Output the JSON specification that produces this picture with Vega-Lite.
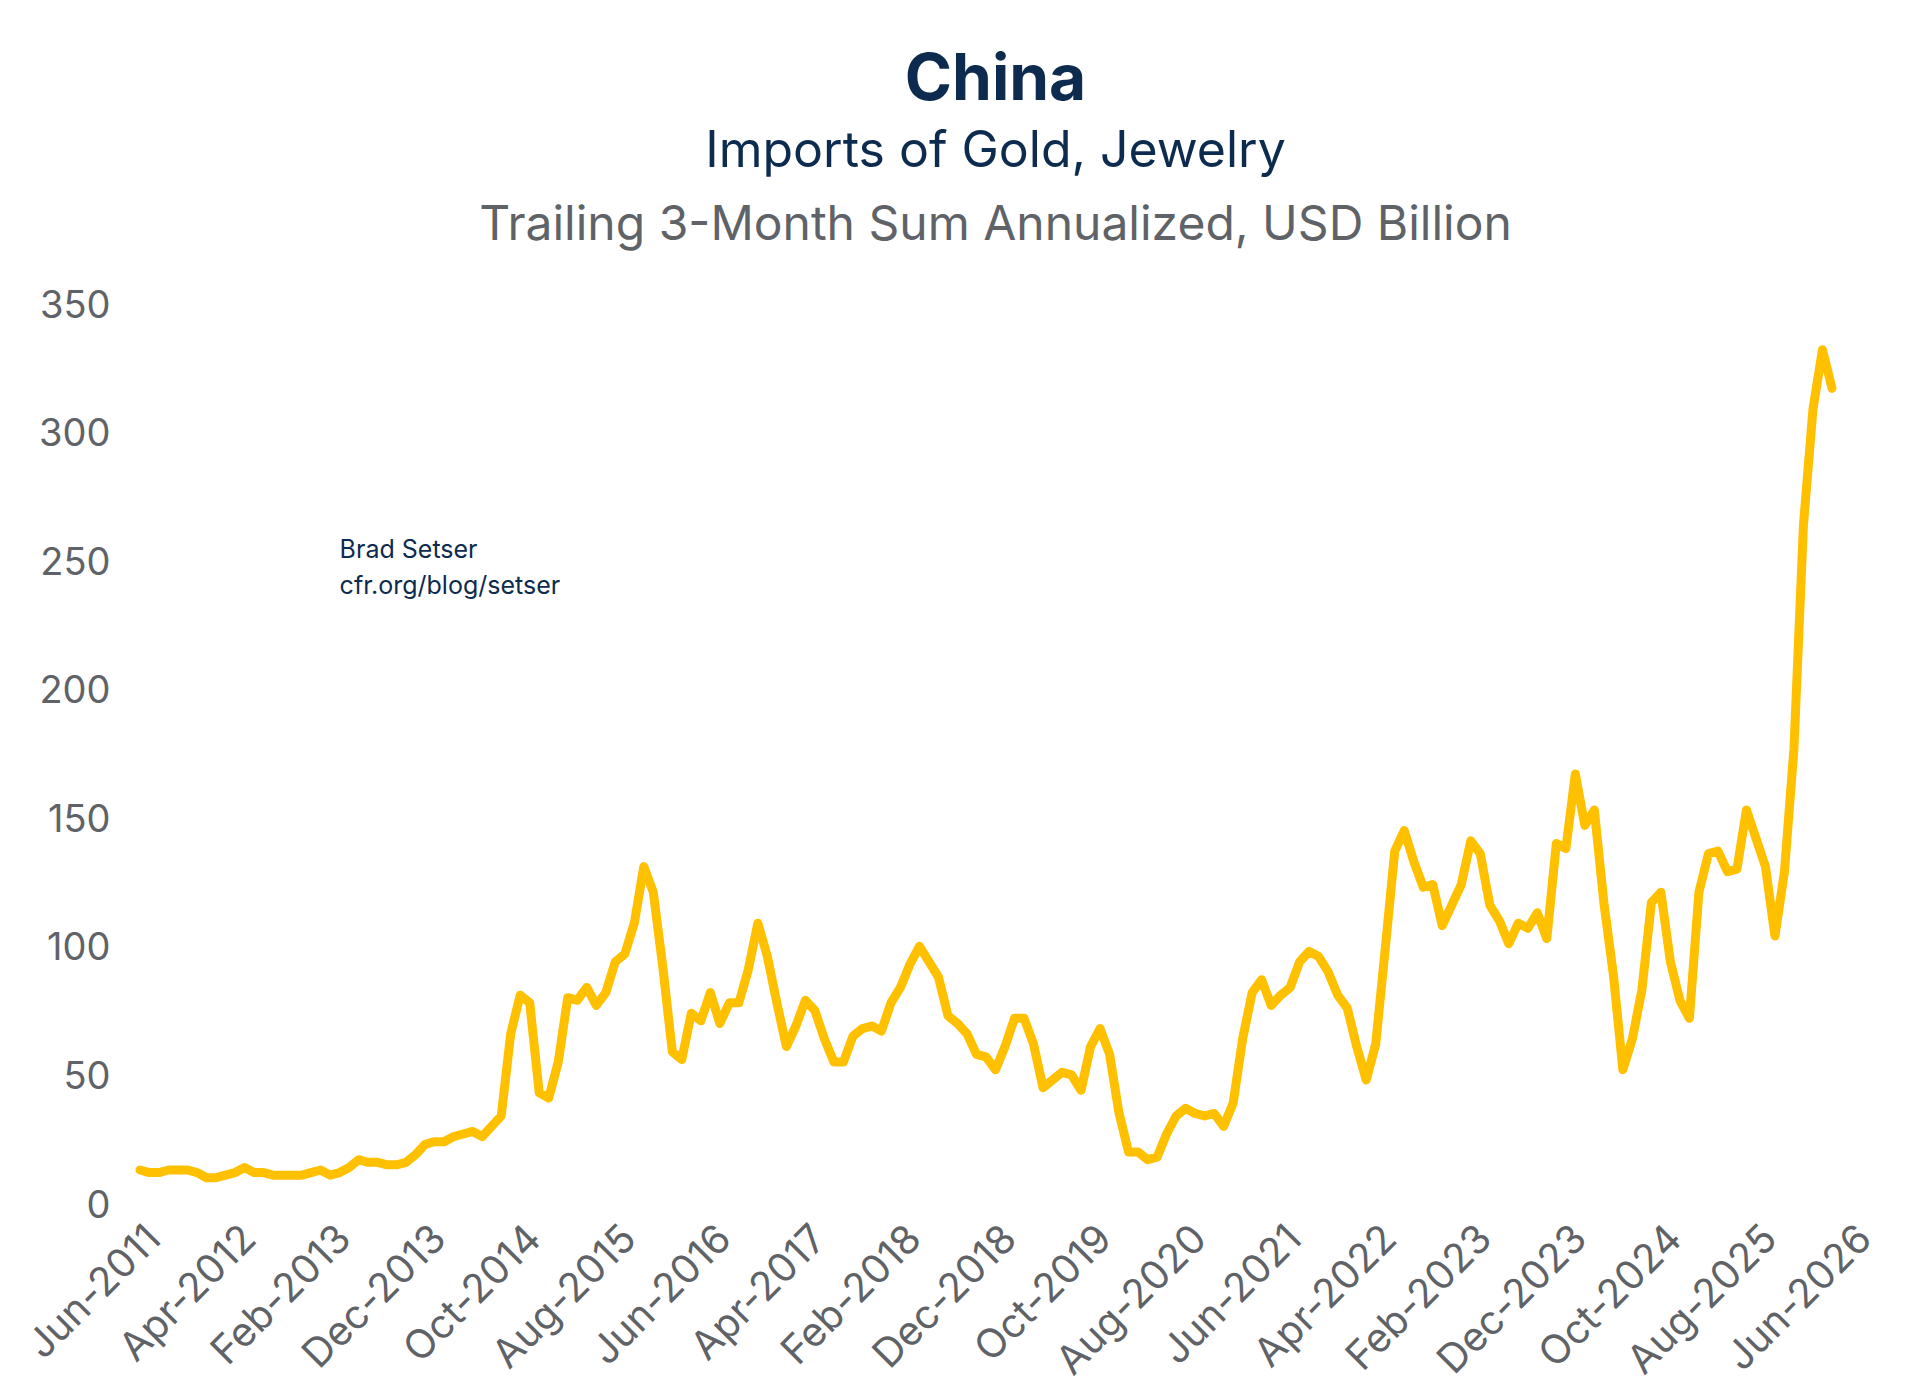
{
  "$schema": "https://vega.github.io/schema/vega-lite/v6.json",
  "width": 1920,
  "height": 1393,
  "autosize": {"type": "fit", "contains": "padding"},
  "padding": {"left": 20, "right": 40, "top": 5, "bottom": 10},
  "background": "white",
  "title": {
    "text": "China",
    "subtitle": "Imports of Gold, Jewelry",
    "font": "Inter",
    "fontSize": 64,
    "fontWeight": "bold",
    "color": "#0d2b4e",
    "subtitleFont": "Inter",
    "subtitleFontSize": 50,
    "subtitleColor": "#0d2b4e",
    "subtitlePadding": 14,
    "anchor": "middle",
    "offset": 25
  },
  "datasets": {
    "series": [
      {"i":0,"v":14},{"i":1,"v":13},{"i":2,"v":13},{"i":3,"v":14},{"i":4,"v":14},{"i":5,"v":14},{"i":6,"v":13},{"i":7,"v":11},{"i":8,"v":11},{"i":9,"v":12},
      {"i":10,"v":13},{"i":11,"v":15},{"i":12,"v":13},{"i":13,"v":13},{"i":14,"v":12},{"i":15,"v":12},{"i":16,"v":12},{"i":17,"v":12},{"i":18,"v":13},{"i":19,"v":14},
      {"i":20,"v":12},{"i":21,"v":13},{"i":22,"v":15},{"i":23,"v":18},{"i":24,"v":17},{"i":25,"v":17},{"i":26,"v":16},{"i":27,"v":16},{"i":28,"v":17},{"i":29,"v":20},
      {"i":30,"v":24},{"i":31,"v":25},{"i":32,"v":25},{"i":33,"v":27},{"i":34,"v":28},{"i":35,"v":29},{"i":36,"v":27},{"i":37,"v":31},{"i":38,"v":35},{"i":39,"v":67},
      {"i":40,"v":82},{"i":41,"v":79},{"i":42,"v":44},{"i":43,"v":42},{"i":44,"v":56},{"i":45,"v":81},{"i":46,"v":80},{"i":47,"v":85},{"i":48,"v":78},{"i":49,"v":83},
      {"i":50,"v":95},{"i":51,"v":98},{"i":52,"v":110},{"i":53,"v":132},{"i":54,"v":122},{"i":55,"v":93},{"i":56,"v":60},{"i":57,"v":57},{"i":58,"v":75},{"i":59,"v":72},
      {"i":60,"v":83},{"i":61,"v":71},{"i":62,"v":79},{"i":63,"v":79},{"i":64,"v":92},{"i":65,"v":110},{"i":66,"v":97},{"i":67,"v":79},{"i":68,"v":62},{"i":69,"v":70},
      {"i":70,"v":80},{"i":71,"v":76},{"i":72,"v":65},{"i":73,"v":56},{"i":74,"v":56},{"i":75,"v":66},{"i":76,"v":69},{"i":77,"v":70},{"i":78,"v":68},{"i":79,"v":79},
      {"i":80,"v":85},{"i":81,"v":94},{"i":82,"v":101},{"i":83,"v":95},{"i":84,"v":89},{"i":85,"v":74},{"i":86,"v":71},{"i":87,"v":67},{"i":88,"v":59},{"i":89,"v":58},
      {"i":90,"v":53},{"i":91,"v":62},{"i":92,"v":73},{"i":93,"v":73},{"i":94,"v":63},{"i":95,"v":46},{"i":96,"v":49},{"i":97,"v":52},{"i":98,"v":51},{"i":99,"v":45},
      {"i":100,"v":62},{"i":101,"v":69},{"i":102,"v":59},{"i":103,"v":36},{"i":104,"v":21},{"i":105,"v":21},{"i":106,"v":18},{"i":107,"v":19},{"i":108,"v":28},{"i":109,"v":35},
      {"i":110,"v":38},{"i":111,"v":36},{"i":112,"v":35},{"i":113,"v":36},{"i":114,"v":31},{"i":115,"v":40},{"i":116,"v":65},{"i":117,"v":83},{"i":118,"v":88},{"i":119,"v":78},
      {"i":120,"v":82},{"i":121,"v":85},{"i":122,"v":95},{"i":123,"v":99},{"i":124,"v":97},{"i":125,"v":91},{"i":126,"v":82},{"i":127,"v":77},{"i":128,"v":62},{"i":129,"v":49},
      {"i":130,"v":63},{"i":131,"v":100},{"i":132,"v":138},{"i":133,"v":146},{"i":134,"v":134},{"i":135,"v":124},{"i":136,"v":125},{"i":137,"v":109},{"i":138,"v":117},{"i":139,"v":125},
      {"i":140,"v":142},{"i":141,"v":137},{"i":142,"v":117},{"i":143,"v":111},{"i":144,"v":102},{"i":145,"v":110},{"i":146,"v":108},{"i":147,"v":114},{"i":148,"v":104},{"i":149,"v":141},
      {"i":150,"v":139},{"i":151,"v":168},{"i":152,"v":148},{"i":153,"v":154},{"i":154,"v":118},{"i":155,"v":90},{"i":156,"v":53},{"i":157,"v":65},{"i":158,"v":84},{"i":159,"v":118},
      {"i":160,"v":122},{"i":161,"v":95},{"i":162,"v":80},{"i":163,"v":73},{"i":164,"v":122},{"i":165,"v":137},{"i":166,"v":138},{"i":167,"v":130},{"i":168,"v":131},{"i":169,"v":154},
      {"i":170,"v":143},{"i":171,"v":132},{"i":172,"v":105},{"i":173,"v":130},{"i":174,"v":178},{"i":175,"v":265},{"i":176,"v":310},{"i":177,"v":333},{"i":178,"v":318}
    ],
    "note": [
      {"i": 21, "v": 255, "t": "Brad Setser"},
      {"i": 21, "v": 241, "t": "cfr.org/blog/setser"}
    ],
    "head": [
      {"i": 90, "v": 381, "t": "Trailing 3-Month Sum Annualized, USD Billion"}
    ]
  },
  "layer": [
    {
      "data": {"name": "series"},
      "mark": {"type": "line", "color": "#FFC000", "strokeWidth": 9, "strokeJoin": "round", "strokeCap": "round"},
      "encoding": {
        "x": {
          "field": "i", "type": "quantitative", "title": null,
          "scale": {"domain": [0, 180], "nice": false, "zero": false},
          "axis": {
            "values": [0,10,20,30,40,50,60,70,80,90,100,110,120,130,140,150,160,170,180],
            "labelExpr": "timeFormat(datetime(2011, 5 + datum.value, 1), '%b-%Y')",
            "labelAngle": -45, "labelAlign": "right", "labelBaseline": "top",
            "labelFont": "Inter", "labelFontSize": 40, "labelColor": "#5f6368", "labelLimit": 0,
            "domain": false, "ticks": false, "grid": false, "labelPadding": 12, "labelOverlap": false
          }
        },
        "y": {
          "field": "v", "type": "quantitative", "title": null,
          "scale": {"domain": [0, 350], "nice": false},
          "axis": {
            "values": [0,50,100,150,200,250,300,350],
            "labelFont": "Inter", "labelFontSize": 38, "labelColor": "#5f6368",
            "domain": false, "ticks": false, "grid": false, "labelPadding": 30
          }
        }
      }
    },
    {
      "data": {"name": "note"},
      "mark": {"type": "text", "align": "left", "font": "Inter", "fontSize": 25, "color": "#0d2b4e"},
      "encoding": {
        "x": {"field": "i", "type": "quantitative"},
        "y": {"field": "v", "type": "quantitative"},
        "text": {"field": "t"}
      }
    },
    {
      "data": {"name": "head"},
      "mark": {"type": "text", "align": "center", "font": "Inter", "fontSize": 48, "color": "#5f6368", "clip": false},
      "encoding": {
        "x": {"field": "i", "type": "quantitative"},
        "y": {"field": "v", "type": "quantitative"},
        "text": {"field": "t"}
      }
    }
  ],
  "config": {"view": {"stroke": null}}
}
